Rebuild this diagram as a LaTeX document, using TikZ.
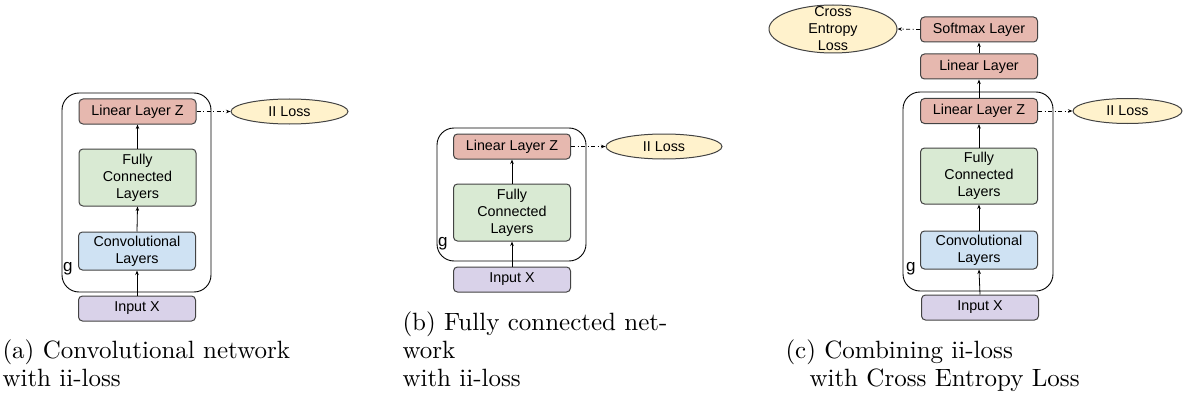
\documentclass[tikz,border=0pt]{standalone}
\usepackage{fontspec}
\newfontfamily\arialf{Liberation Sans}
\usetikzlibrary{shapes.geometric,arrows.meta}
\definecolor{redfill}{HTML}{E6B8AF}
\definecolor{greenfill}{HTML}{D9EAD3}
\definecolor{bluefill}{HTML}{CFE2F3}
\definecolor{purplefill}{HTML}{D9D2E9}
\definecolor{yellowfill}{HTML}{FFF2CC}
\definecolor{bordergray}{HTML}{434343}
\begin{document}
\begin{tikzpicture}[x=1pt,y=-1pt,
  layer/.style={draw=bordergray,line width=1pt,rounded corners=4pt,minimum width=117pt,inner sep=0pt,align=center,font=\arialf\fontsize{14.3}{17}\selectfont},
  loss/.style={ellipse,draw=bordergray,line width=1pt,fill=yellowfill,inner sep=0pt,font=\arialf\fontsize{14.3}{17}\selectfont},
  gbox/.style={draw=black,line width=0.9pt,rounded corners=17pt},
  glabel/.style={anchor=base west,inner sep=0pt,font=\arialf\fontsize{17}{17}\selectfont},
  arr/.style={draw=black,line width=0.8pt,-{Stealth[length=4.5pt,width=3.5pt]}},
  dd/.style={draw=black,line width=0.8pt,dash pattern=on 4pt off 2.5pt on 1pt off 2.5pt,-{Stealth[length=4.5pt,width=3.5pt]}},
  captxt/.style={anchor=base west,inner sep=0pt,scale=2.5,transform shape,font=\fontsize{10}{12}\selectfont}]
\useasboundingbox (0,0) rectangle (1184,396);
% ---------- (a) ----------
\draw[gbox] (62,93) rectangle (211,292);
\node[glabel] (g_a) at (63,271) {g};
\node[layer,fill=redfill,minimum height=25pt] (lz_a) at (137.5,111.5) {Linear Layer Z};
\node[layer,fill=greenfill,minimum height=57pt] (fc_a) at (137.5,177.5) {Fully\\Connected\\Layers};
\node[layer,fill=bluefill,minimum height=38pt] (cv_a) at (137,251) {Convolutional\\Layers};
\node[layer,fill=purplefill,minimum height=25pt] (in_a) at (137,308.5) {Input X};
\node[loss,minimum width=117pt,minimum height=25pt] (ii_a) at (289.5,111.5) {II Loss};
\draw[arr] (in_a.north) -- (cv_a.south);
\draw[arr] (cv_a.north) -- (fc_a.south);
\draw[arr] (fc_a.north) -- (lz_a.south);
\draw[dd] (lz_a.east) -- (ii_a.west);
\node[captxt] (cap_a1) at (2,358) {(a) Convolutional network};
\node[captxt] (cap_a2) at (2,386) {with ii-loss};
% ---------- (b) ----------
\draw[gbox] (437,128) rectangle (586,261);
\node[glabel] (g_b) at (438,246) {g};
\node[layer,fill=redfill,minimum height=25pt] (lz_b) at (512,146.5) {Linear Layer Z};
\node[layer,fill=greenfill,minimum height=57pt] (fc_b) at (512,212.5) {Fully\\Connected\\Layers};
\node[layer,fill=purplefill,minimum height=25pt] (in_b) at (512,279.5) {Input X};
\node[loss,minimum width=116pt,minimum height=25pt] (ii_b) at (664,146.5) {II Loss};
\draw[arr] (in_b.north) -- (fc_b.south);
\draw[arr] (fc_b.north) -- (lz_b.south);
\draw[dd] (lz_b.east) -- (ii_b.west);
\node[captxt] (cap_b1) at (402,330) {(b) Fully connected net-};
\node[captxt] (cap_b2) at (402,358) {work};
\node[captxt] (cap_b3) at (402,386) {with ii-loss};
% ---------- (c) ----------
\draw[gbox] (903,92) rectangle (1053,291);
\node[glabel] (g_c) at (906,271) {g};
\node[layer,fill=redfill,minimum height=25pt] (sm_c) at (979,29.5) {Softmax Layer};
\node[layer,fill=redfill,minimum height=25pt] (ll_c) at (979,66.5) {Linear Layer};
\node[layer,fill=redfill,minimum height=25pt] (lz_c) at (979,111) {Linear Layer Z};
\node[layer,fill=greenfill,minimum height=56pt] (fc_c) at (979,176) {Fully\\Connected\\Layers};
\node[layer,fill=bluefill,minimum height=38pt] (cv_c) at (979,250) {Convolutional\\Layers};
\node[layer,fill=purplefill,minimum height=25pt] (in_c) at (980,307.5) {Input X};
\node[loss,minimum width=109pt,minimum height=25pt] (ii_c) at (1127.5,111) {II Loss};
\node[loss,minimum width=128pt,minimum height=48pt] (ce_c) at (833,29) {};
\node[inner sep=0pt,align=center,font=\arialf\fontsize{14.3}{17}\selectfont] (ce_t) at (ce_c.center) {Cross\\Entropy\\Loss};
\draw[arr] (in_c.north) -- (cv_c.south);
\draw[arr] (cv_c.north) -- (fc_c.south);
\draw[arr] (fc_c.north) -- (lz_c.south);
\draw[arr] (lz_c.north) -- (ll_c.south);
\draw[arr] (ll_c.north) -- (sm_c.south);
\draw[dd] (lz_c.east) -- (ii_c.west);
\draw[dd] (sm_c.west) -- (ce_c.east);
\node[captxt] (cap_c1) at (785,358) {(c) Combining ii-loss};
\node[captxt] (cap_c2) at (809,386) {with Cross Entropy Loss};
\end{tikzpicture}
\end{document}
